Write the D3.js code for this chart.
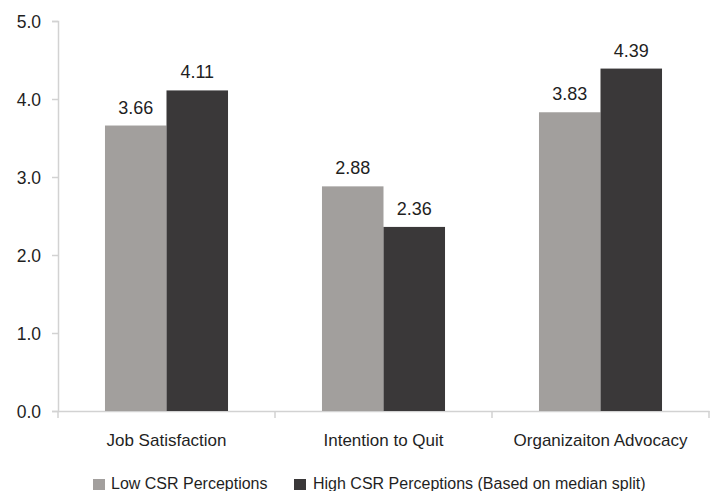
<!DOCTYPE html>
<html>
<head>
<meta charset="utf-8">
<script src="https://cdn.jsdelivr.net/npm/d3@7"></script>
<style>
  html, body { margin: 0; padding: 0; background: #fff; }
  svg text { font-family: "Liberation Sans", Arial, sans-serif; fill: #1f1f1f; }
</style>
</head>
<body>
<svg id="chart" width="710" height="491"></svg>
<script>
// Mean scores by CSR perception group
const categories = ["Job Satisfaction", "Intention to Quit", "Organizaiton Advocacy"];
const seriesNames = ["Low CSR Perceptions", "High CSR Perceptions (Based on median split)"];
const lowValues = [3.66, 2.88, 3.83];
const highValues = [4.11, 2.36, 4.39];
const yTicks = [0, 1, 2, 3, 4, 5];
const colors = ["#a29f9d", "#3a3839"];

const series = [lowValues, highValues];

const svg = d3.select("#chart");
const plotLeft = 58, plotRight = 709, plotTop = 21, plotBottom = 411;

const x = d3.scaleBand().domain(categories).range([plotLeft, plotRight])
  .paddingInner(0.433).paddingOuter(0.2165);
const xs = d3.scaleBand().domain(d3.range(series.length)).range([0, x.bandwidth()]);
const y = d3.scaleLinear().domain([0, 5]).range([plotBottom, plotTop]);

const axisColor = "#d2d2d2";

// y axis
const yAxis = svg.append("g").attr("transform", `translate(${plotLeft},0)`)
  .call(d3.axisLeft(y).tickValues(yTicks).tickSize(6).tickPadding(11).tickFormat(d3.format(".1f")));
yAxis.select(".domain").attr("stroke", axisColor).attr("stroke-width", 1.5);
yAxis.selectAll(".tick line").attr("stroke", axisColor).attr("stroke-width", 1.5);
yAxis.selectAll(".tick text")
  .attr("dy", "0.36em")
  .style("font-size", "17.5px")
  .style("font-family", "'Liberation Sans', Arial, sans-serif")
  .attr("fill", "#1f1f1f");

// x axis line with boundary ticks
const xAxis = svg.append("g").attr("transform", `translate(0,${plotBottom})`)
  .call(d3.axisBottom(x).tickSize(0).tickFormat(""));
xAxis.select(".domain").attr("stroke", axisColor).attr("stroke-width", 1.5);
const gap = (x.step() - x.bandwidth()) / 2;
const boundaries = categories.map(c => x(c) - gap)
  .concat([x(categories[categories.length - 1]) + x.bandwidth() + gap]);
svg.append("g").selectAll("line").data(boundaries).join("line")
  .attr("x1", d => d).attr("x2", d => d)
  .attr("y1", plotBottom).attr("y2", plotBottom + 7)
  .attr("stroke", axisColor).attr("stroke-width", 1.5);

// bars
const groups = svg.append("g").selectAll("g").data(categories).join("g")
  .attr("transform", c => `translate(${x(c)},0)`);
groups.selectAll("rect")
  .data((c, i) => series.map((s, k) => ({ k, v: s[i] })))
  .join("rect")
  .attr("x", d => xs(d.k))
  .attr("width", xs.bandwidth())
  .attr("y", d => y(d.v))
  .attr("height", d => y(0) - y(d.v))
  .attr("fill", d => colors[d.k]);

// value labels
const valueLabels = svg.append("g");
categories.forEach((c, i) => {
  series.forEach((s, k) => {
    valueLabels.append("text")
      .attr("x", x(c) + xs(k) + xs.bandwidth() / 2)
      .attr("y", y(s[i]) - 12)
      .attr("text-anchor", "middle")
      .style("font-size", "18px")
      .text(s[i].toFixed(2));
  });
});

// category labels
svg.append("g").selectAll("text").data(categories).join("text")
  .attr("x", c => x(c) + x.bandwidth() / 2)
  .attr("y", plotBottom + 35)
  .attr("text-anchor", "middle")
  .style("font-size", "17px")
  .text(c => c);

// legend
const legendPos = [{ x: 93, tx: 111 }, { x: 294, tx: 313 }];
seriesNames.forEach((name, k) => {
  svg.append("rect").attr("x", legendPos[k].x).attr("y", 479)
    .attr("width", 12).attr("height", 11).attr("fill", colors[k]);
  svg.append("text").attr("x", legendPos[k].tx).attr("y", 489)
    .style("font-size", "16px").text(name);
});
</script>
</body>
</html>
